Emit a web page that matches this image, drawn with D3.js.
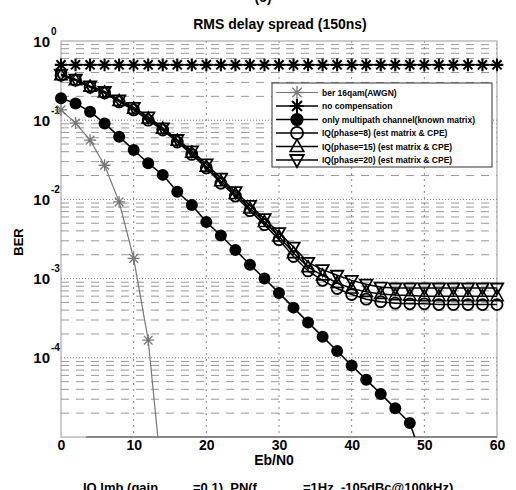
<!DOCTYPE html>
<html><head><meta charset="utf-8">
<script src="https://cdn.jsdelivr.net/npm/d3@7"></script>
<style>
body{margin:0;background:#fff}
svg{display:block}
text{font-family:"Liberation Sans",Arial,sans-serif;font-weight:bold;fill:#000}
</style>
</head><body>
<svg id="chart" width="516" height="490"></svg>
<script>
// ---------------- data ----------------
const ebn0 = [0,2,4,6,8,10,12,14,16,18,20,22,24,26,28,30,32,34,36,38,40,42,44,46,48,50,52,54,56,58,60];
const ebn0Awgn = [0,2,4,6,8,10,12,14];
const berAwgn = [0.135,0.092,0.056,0.027,0.0093,0.0018,1.67e-4,2.4e-6];
const berNoComp = [0.5,0.5,0.5,0.5,0.5,0.5,0.5,0.5,0.5,0.5,0.5,0.5,0.5,0.5,0.5,0.5,0.5,0.5,0.5,0.5,0.5,0.5,0.5,0.5,0.5,0.5,0.5,0.5,0.5,0.5,0.5];
const ebn0Multi = [0,2,4,6,8,10,12,14,16,18,20,22,24,26,28,30,32,34,36,38,40,42,44,46,48,50];
const berMulti = [0.189,0.163,0.128,0.091,0.062,0.042,0.0286,0.0204,0.0125,0.0085,0.0052,0.0035,0.0023,0.0015,0.001,6.6e-4,4.3e-4,2.8e-4,1.85e-4,1.22e-4,8e-5,5.3e-5,3.5e-5,2.3e-5,1.5e-5,4.5e-6];
const berIQ8  = [0.37,0.32,0.26,0.22,0.17,0.135,0.10,0.075,0.053,0.037,0.025,0.016,0.011,0.0072,0.0048,0.0031,0.0019,0.00125,0.00095,0.00075,0.00063,0.00055,0.00051,0.00049,0.00048,0.00048,0.00047,0.00047,0.00047,0.00047,0.00047];
const berIQ15 = [0.37,0.32,0.265,0.225,0.175,0.14,0.105,0.078,0.055,0.039,0.026,0.017,0.0117,0.0077,0.0052,0.0034,0.0021,0.0014,0.0011,0.00088,0.00075,0.00068,0.00064,0.00062,0.00061,0.0006,0.0006,0.0006,0.0006,0.0006,0.0006];
const berIQ20 = [0.38,0.33,0.27,0.23,0.18,0.145,0.11,0.08,0.057,0.041,0.028,0.0185,0.0125,0.0084,0.0057,0.0038,0.0025,0.0016,0.0013,0.0011,0.00095,0.00085,0.00078,0.00076,0.00076,0.00076,0.00076,0.00076,0.00076,0.00076,0.00076];
const xTicks = [0,10,20,30,40,50,60];
const yDecades = [1,0.1,0.01,0.001,1e-4,1e-5];
const legendLabels = ["ber 16qam(AWGN)","no compensation","only multipath channel(known matrix)","IQ(phase=8) (est matrix & CPE)","IQ(phase=15) (est matrix & CPE)","IQ(phase=20) (est matrix & CPE)"];
const titleText = "RMS delay spread (150ns)";
const xLabel = "Eb/N0";
const yLabel = "BER";

// ---------------- layout ----------------
const svg = d3.select("#chart");
const L=61, R=497, T=41, B=437;
const x = d3.scaleLinear().domain([0,60]).range([L,R]);
const y = d3.scaleLog().domain([1e-5,1]).range([B,T]);

// grid
const grid = svg.append("g");
const minor = [];
for (let e=-5;e<0;e++) for (let k=2;k<=9;k++) minor.push(k*Math.pow(10,e));
grid.selectAll(".mn").data(minor).enter().append("line")
  .attr("x1",L).attr("x2",R).attr("y1",d=>y(d)).attr("y2",d=>y(d))
  .attr("stroke","#999").attr("stroke-width",1).attr("stroke-dasharray","8,7");
grid.selectAll(".mj").data(yDecades.slice(1,5)).enter().append("line")
  .attr("x1",L).attr("x2",R).attr("y1",d=>y(d)).attr("y2",d=>y(d))
  .attr("stroke","#777").attr("stroke-width",1).attr("stroke-dasharray","1,2");
grid.selectAll(".vx").data(xTicks.slice(1,6)).enter().append("line")
  .attr("x1",d=>x(d)).attr("x2",d=>x(d)).attr("y1",T).attr("y2",B)
  .attr("stroke","#888").attr("stroke-width",1).attr("stroke-dasharray","2,4");

// axes box
svg.append("rect").attr("x",L).attr("y",T).attr("width",R-L).attr("height",B-T)
  .attr("fill","none").attr("stroke","#999").attr("stroke-width",1);
svg.append("line").attr("x1",L+25).attr("x2",R).attr("y1",B).attr("y2",B).attr("stroke","#444");

// axes via d3 (ticks hidden), then restyle
const xAxis = svg.append("g").attr("transform",`translate(0,${B})`)
  .call(d3.axisBottom(x).tickValues(xTicks).tickSize(0).tickPadding(3));
xAxis.select(".domain").remove();
xAxis.selectAll("text").attr("font-size","14px").attr("font-family","Liberation Sans, Arial").attr("font-weight","bold").attr("fill","#000");

const yAxis = svg.append("g").attr("transform",`translate(${L},0)`)
  .call(d3.axisLeft(y).tickValues(yDecades.slice(0,5)).tickSize(0).tickFormat(""));
yAxis.select(".domain").remove();
yAxis.selectAll(".tick").each(function(d){
  const g=d3.select(this);
  g.append("text").attr("x",-11).attr("y",5).attr("text-anchor","end")
    .attr("font-size","15px").attr("font-family","Liberation Sans, Arial").attr("font-weight","bold").attr("fill","#000").text("10");
  g.append("text").attr("x",-10).attr("y",-7).attr("text-anchor","start")
    .attr("font-size","10px").attr("font-family","Liberation Sans, Arial").attr("font-weight","bold").attr("fill","#000")
    .text(String(Math.round(Math.log10(d))));
});

// title & labels
svg.append("text").attr("x",280).attr("y",29).attr("text-anchor","middle").attr("font-size","14px").text(titleText);
svg.append("text").attr("x",263).attr("y",2).attr("text-anchor","middle").attr("font-size","14px").text("(c)");
svg.append("text").attr("x",274).attr("y",465).attr("text-anchor","middle").attr("font-size","14px").text(xLabel);
svg.append("text").attr("transform","translate(23,242) rotate(-90)").attr("text-anchor","middle").attr("font-size","13px").text(yLabel);
const bot = svg.append("text").attr("y",492).attr("font-size","13px");
bot.append("tspan").attr("x",83).text("IQ lmb.(gain");
bot.append("tspan").attr("x",193).text("=0.1), PN(f");
bot.append("tspan").attr("x",303).text("=1Hz, -105dBc@100kHz)");

// ---------------- markers ----------------
function star(r){const a=r*0.72;return `M${-r},0L${r},0M0,${-r}L0,${r}M${-a},${-a}L${a},${a}M${-a},${a}L${a},${-a}`;}
function triUp(r){return `M0,${-r}L${r*0.95},${r*0.7}L${-r*0.95},${r*0.7}Z`;}
function triDn(r){return `M0,${r}L${r*0.95},${-r*0.7}L${-r*0.95},${-r*0.7}Z`;}

svg.append("clipPath").attr("id","pc").append("rect").attr("x",L-8).attr("y",T-8).attr("width",R-L+16).attr("height",B-T+8);
const plot = svg.append("g").attr("clip-path","url(#pc)");
const line = d3.line().x(d=>x(d[0])).y(d=>y(d[1]));

const series = [
  {xs:ebn0Awgn, ys:berAwgn, color:"#777", lw:1.2, marker:"star", size:6, mw:1.3},
  {xs:ebn0, ys:berNoComp, color:"#000", lw:1.5, marker:"star", size:6.3, mw:2.1},
  {xs:ebn0Multi, ys:berMulti, color:"#000", lw:1.5, marker:"dot", size:6},
  {xs:ebn0, ys:berIQ8, color:"#000", lw:1.5, marker:"circle", size:5.5, mw:1.8},
  {xs:ebn0, ys:berIQ15, color:"#000", lw:1.5, marker:"triUp", size:6.5, mw:1.6},
  {xs:ebn0, ys:berIQ20, color:"#000", lw:1.5, marker:"triDn", size:6.5, mw:1.8}
];

function drawMarker(g, s, cx, cy, scale){
  const r=s.size*(scale||1);
  if (s.marker==="dot") g.append("circle").attr("cx",cx).attr("cy",cy).attr("r",r).attr("fill",s.color);
  else if (s.marker==="circle") g.append("circle").attr("cx",cx).attr("cy",cy).attr("r",r).attr("fill","none").attr("stroke",s.color).attr("stroke-width",s.mw);
  else {
    const p = s.marker==="star"?star(r):s.marker==="triUp"?triUp(r):triDn(r);
    g.append("path").attr("d",p).attr("transform",`translate(${cx},${cy})`).attr("fill","none").attr("stroke",s.color).attr("stroke-width",s.mw);
  }
}

// clip lines strictly to the axes box, markers may overhang slightly
svg.append("clipPath").attr("id","lc").append("rect").attr("x",L).attr("y",T).attr("width",R-L).attr("height",B-T);
[3,4,5,2,1,0].forEach(i=>{
  const s=series[i];
  const pts=s.xs.map((v,j)=>[v,s.ys[j]]);
  svg.append("path").attr("clip-path","url(#lc)").datum(pts).attr("d",line).attr("fill","none").attr("stroke",s.color).attr("stroke-width",s.lw);
  const g=plot.append("g");
  pts.filter(p=>p[1]>=1e-5).forEach(p=>drawMarker(g,s,x(p[0]),y(p[1])));
});

// ---------------- legend ----------------
const lg = svg.append("g");
const lx0=272, ly0=83, lw=220, lh=84;
lg.append("rect").attr("x",lx0).attr("y",ly0).attr("width",lw).attr("height",lh).attr("fill","#fff").attr("stroke","#333").attr("stroke-width",1);
legendLabels.forEach((lab,i)=>{
  const yy = 92.5 + i*13.5;
  const s = series[i];
  lg.append("line").attr("x1",276).attr("x2",318).attr("y1",yy).attr("y2",yy).attr("stroke",s.color).attr("stroke-width",s.lw);
  drawMarker(lg,s,297,yy,1.1);
  lg.append("text").attr("x",322).attr("y",yy+3).attr("font-size","8.5px").text(lab);
});
</script>
</body></html>
